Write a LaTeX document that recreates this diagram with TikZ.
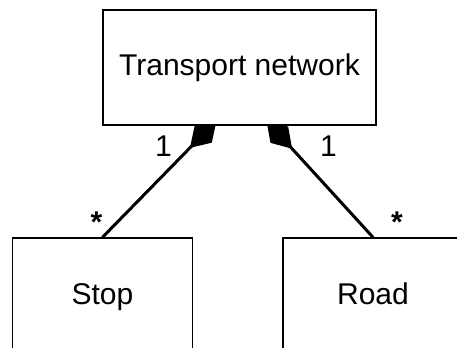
\documentclass[tikz,border=0pt]{standalone}
\usepackage{fontspec}
\setmainfont{Liberation Sans}
\usetikzlibrary{arrows.meta,calc,backgrounds}

\begin{document}
\begin{tikzpicture}[x=0.5pt,y=-0.5pt,font=\fontsize{15}{18}\selectfont]
  \tikzstyle{class}=[draw,fill=white,rectangle,line width=0.7pt,minimum width=90pt,minimum height=59pt,
                     inner sep=0pt,text height=11pt,text depth=3pt]
  \tikzstyle{comp}=[{Diamond[length=19pt,width=12pt,fill=black]}-,line width=1.5pt]
  \tikzstyle{mult}=[inner sep=0pt]

  \useasboundingbox (0,0) rectangle (457,348);

  \node[class,minimum width=136.5pt,minimum height=57.5pt] (TN) at (239.5,67.5) {Transport network};
  \node[class] (S) at (102.5,297) {Stop};
  \node[class] (R) at (373,297) {Road};

  % diamonds start a little inside the top box, which hides their tip
  \coordinate (TNl) at ($(TN.south)+(-23,-5)$);
  \coordinate (TNr) at ($(TN.south)+(27,-5)$);

  \begin{scope}[on background layer]
    \draw[comp] (TNl) -- (S.north);
    \draw[comp] (TNr) -- (R.north);
  \end{scope}

  \node[mult] (m1) at ($(TN.south)+(-76,20)$) {1};
  \node[mult] (m2) at ($(TN.south)+(89,20)$) {1};
  \node[mult] (s1) at ($(S.north)+(-6,-15)$) {\textbf{*}};
  \node[mult] (s2) at ($(R.north)+(24,-15)$) {\textbf{*}};
\end{tikzpicture}
\end{document}
